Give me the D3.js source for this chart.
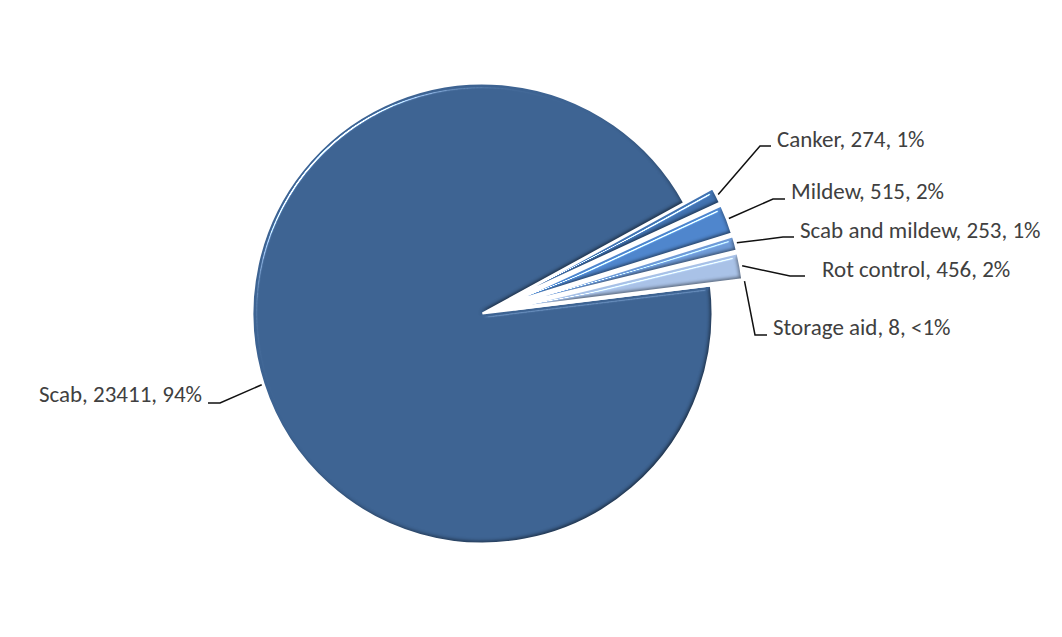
<!DOCTYPE html>
<html>
<head>
<meta charset="utf-8">
<script src="https://cdn.jsdelivr.net/npm/d3@7"></script>
<style>
  html, body { margin: 0; padding: 0; background: #fff; }
  svg { display: block; }
  .lbl { font-family: Calibri, Carlito, Lato, sans-serif; font-size: 23px; fill: #404040; }
</style>
</head>
<body>
<svg id="chart" width="1062" height="637"></svg>
<script>
// Fungicide use by purpose
const categories = ["Scab", "Canker", "Mildew", "Scab and mildew", "Rot control", "Storage aid"];
const values     = [23411, 274, 515, 253, 456, 8];
const colors     = ["#3d6392", "#4172b0", "#4e85cc", "#6e9ad6", "#a8c1e6", "#cad9f0"];
const explode    = [0, 32, 32, 32, 32, 32];

// label placement: text start, baseline, leader elbow and leader end
const labelLayout = {
  "Scab":            { tx: 202, ty: 402, anchor: "end",   elbow: [220, 403], end: [208, 403] },
  "Canker":          { tx: 777, ty: 147, anchor: "start", elbow: [760, 146], end: [771, 146] },
  "Mildew":          { tx: 791, ty: 199, anchor: "start", elbow: [773, 199], end: [785, 199] },
  "Scab and mildew": { tx: 800, ty: 238, anchor: "start", elbow: [783, 237], end: [794, 237] },
  "Rot control":     { tx: 822, ty: 277, anchor: "start", elbow: [790, 276], end: [805, 276] },
  "Storage aid":     { tx: 773, ty: 335, anchor: "start", elbow: [755, 335], end: [767, 335] }
};

const cx = 482.5, cy = 313.5, radius = 230;
const firstSliceAngle = 83 * Math.PI / 180;

const svg = d3.select("#chart");
const defs = svg.append("defs");

// soft bevel: gentle diffuse shading plus a specular rim from the upper left
const f = defs.append("filter").attr("id", "bevel")
  .attr("x", "-10%").attr("y", "-10%").attr("width", "120%").attr("height", "120%")
  .attr("color-interpolation-filters", "sRGB");
f.append("feGaussianBlur").attr("in", "SourceAlpha").attr("stdDeviation", 2.2).attr("result", "b");
f.append("feDiffuseLighting").attr("in", "b").attr("surfaceScale", 3).attr("diffuseConstant", 1.414)
  .attr("lighting-color", "#fff").attr("result", "d")
  .append("feDistantLight").attr("azimuth", 225).attr("elevation", 45);
f.append("feComposite").attr("in", "SourceGraphic").attr("in2", "d").attr("operator", "arithmetic")
  .attr("k1", 0.45).attr("k2", 0.55).attr("k3", 0).attr("k4", 0).attr("result", "lit");
f.append("feSpecularLighting").attr("in", "b").attr("surfaceScale", 4).attr("specularConstant", 1.5)
  .attr("specularExponent", 80).attr("lighting-color", "#fff").attr("result", "s")
  .append("feDistantLight").attr("azimuth", 225).attr("elevation", 45);
f.append("feComposite").attr("in", "s").attr("in2", "SourceAlpha").attr("operator", "in").attr("result", "s2");
f.append("feComposite").attr("in", "lit").attr("in2", "s2").attr("operator", "arithmetic")
  .attr("k1", 0).attr("k2", 1).attr("k3", 1).attr("k4", 0);

// rim stroke: light at upper left, grey at lower right
const rim = defs.append("linearGradient").attr("id", "rim")
  .attr("gradientUnits", "userSpaceOnUse")
  .attr("x1", cx - radius).attr("y1", cy - radius).attr("x2", cx + radius).attr("y2", cy + radius);
rim.append("stop").attr("offset", "0%").attr("stop-color", "#ffffff");
rim.append("stop").attr("offset", "55%").attr("stop-color", "#e4e4e4");
rim.append("stop").attr("offset", "100%").attr("stop-color", "#8a8a8a");

const data = categories.map((c, i) => ({ name: c, value: values[i], color: colors[i], explode: explode[i] }));
const total = d3.sum(values);

const pie = d3.pie().sort(null).value(d => d.value)
  .startAngle(firstSliceAngle).endAngle(firstSliceAngle + 2 * Math.PI);
const arcs = pie(data);
const arc = d3.arc().innerRadius(0).outerRadius(radius);

const unit = a => [Math.sin(a), -Math.cos(a)];

const g = svg.append("g").attr("transform", `translate(${cx},${cy})`);

const slices = g.selectAll("g.slice").data(arcs).join("g")
  .attr("class", "slice")
  .attr("transform", d => {
    const m = (d.startAngle + d.endAngle) / 2, u = unit(m);
    return `translate(${u[0] * d.data.explode},${u[1] * d.data.explode})`;
  });

slices.append("path")
  .attr("d", arc)
  .attr("fill", d => d.data.color)
  .attr("filter", "url(#bevel)");

slices.append("path")
  .attr("d", arc)
  .attr("fill", "none")
  .attr("stroke", "url(#rim)")
  .attr("stroke-width", 2)
  .attr("stroke-linejoin", "miter");

const pctText = v => {
  const p = v / total * 100;
  return p < 1 ? "<1%" : Math.round(p) + "%";
};

// leader lines and labels
const lab = svg.append("g");
arcs.forEach(d => {
  const L = labelLayout[d.data.name];
  const m = (d.startAngle + d.endAngle) / 2, u = unit(m);
  const r0 = radius + d.data.explode + 2;
  const start = [cx + u[0] * r0, cy + u[1] * r0];
  lab.append("path")
    .attr("d", d3.line()([start, L.elbow, L.end]))
    .attr("fill", "none")
    .attr("stroke", "#111")
    .attr("stroke-width", 1.5);
  lab.append("text")
    .attr("class", "lbl")
    .attr("x", L.tx).attr("y", L.ty)
    .attr("text-anchor", L.anchor)
    .text(`${d.data.name}, ${d.data.value}, ${pctText(d.data.value)}`);
});
</script>
</body>
</html>
